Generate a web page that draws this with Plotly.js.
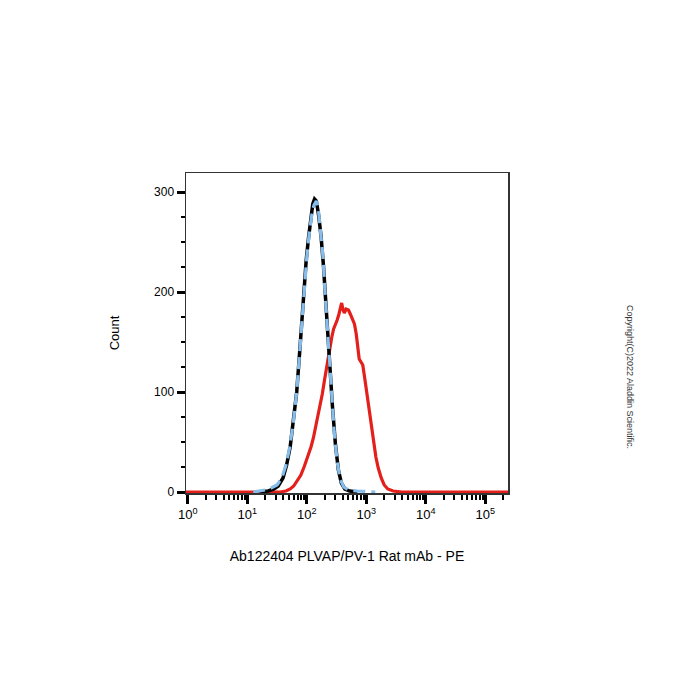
<!DOCTYPE html>
<html>
<head>
<meta charset="utf-8">
<script src="https://cdn.plot.ly/plotly-3.0.1.min.js"></script>
<style>html,body{margin:0;padding:0;background:#fff;}#chart{width:700px;height:700px;}</style>
</head>
<body>
<div id="chart"></div>
<script>
// Fluorescence positions stored as log10(PE intensity), counts
const redLog   = [-0.1, 1.0, 1.55, 1.65, 1.72, 1.78, 1.84, 1.90, 1.96, 2.02, 2.07, 2.11, 2.15, 2.18, 2.22, 2.26, 2.30, 2.34, 2.38, 2.42, 2.45, 2.48, 2.51, 2.54, 2.57, 2.585, 2.61, 2.63, 2.66, 2.70, 2.73, 2.76, 2.80, 2.83, 2.86, 2.88, 2.91, 2.94, 2.97, 3.00, 3.04, 3.08, 3.12, 3.16, 3.20, 3.25, 3.30, 3.36, 3.45, 3.60, 4.5, 5.5];
const redCount = [0, 0, 0, 1, 3, 6, 11, 17, 26, 36, 45, 54, 66, 73, 84, 98, 113, 128, 143, 155, 163, 167, 172, 178, 186, 189, 182, 179, 183, 182, 178, 174, 168, 158, 146, 133, 130, 127, 115, 102, 85, 66, 49, 35, 24, 14, 7, 3, 1, 0, 0, 0];

const blackLog   = [1.20, 1.35, 1.45, 1.52, 1.60, 1.66, 1.72, 1.77, 1.83, 1.88, 1.93, 1.96, 1.99, 2.03, 2.07, 2.10, 2.13, 2.16, 2.20, 2.24, 2.28, 2.33, 2.38, 2.43, 2.48, 2.53, 2.58, 2.64, 2.72, 2.85];
const blackCount = [0, 1, 3, 6, 14, 27, 45, 68, 100, 140, 182, 212, 232, 255, 275, 288, 293, 291, 276, 255, 226, 176, 130, 86, 48, 22, 9, 3, 1, 0];

const blueLog   = [1.10, 1.20, 1.30, 1.40, 1.50, 1.58, 1.65, 1.71, 1.77, 1.83, 1.88, 1.93, 1.97, 2.00, 2.04, 2.08, 2.12, 2.16, 2.19, 2.23, 2.27, 2.31, 2.36, 2.41, 2.46, 2.51, 2.56, 2.62, 2.70, 2.85, 3.00, 3.15];
const blueCount = [0, 1, 2, 4, 7, 14, 27, 44, 68, 100, 140, 180, 215, 235, 258, 276, 287, 291, 285, 262, 236, 196, 150, 102, 60, 30, 13, 5, 2, 1, 0.5, 0];

const xTickVals = [1, 10, 100, 1000, 10000, 100000];
const xTickText = ['10<sup>0</sup>', '10<sup>1</sup>', '10<sup>2</sup>', '10<sup>3</sup>', '10<sup>4</sup>', '10<sup>5</sup>'];
const yTickVals = [0, 100, 200, 300];
const yTickText = ['0', '100', '200', '300'];

const xTitle = 'Ab122404 PLVAP/PV-1 Rat mAb - PE';
const yTitle = 'Count';
const copyright = 'Copyright(C)2022 Aladdin Scientific.';

const toLin = a => a.map(v => Math.pow(10, v));

const minorX = [];
for (let d = 0; d < 6; d++) for (let m = 2; m <= 9; m++) minorX.push(m * Math.pow(10, d));

const font = 'Arial, "Liberation Sans", sans-serif';

const traces = [
  {x: toLin(redLog), y: redCount, type: 'scatter', mode: 'lines', line: {color: '#e3201b', width: 3.2}, hoverinfo: 'skip'},
  {x: toLin(blackLog), y: blackCount, type: 'scatter', mode: 'lines', line: {color: '#000000', width: 3.5}, hoverinfo: 'skip'},
  {x: toLin(blueLog), y: blueCount, type: 'scatter', mode: 'lines', line: {color: '#86bdea', width: 3.2, dash: '12px,6px'}, hoverinfo: 'skip'}
];

const layout = {
  width: 700, height: 700,
  margin: {l: 186, r: 192, t: 173, b: 207, pad: 0},
  paper_bgcolor: '#fff', plot_bgcolor: '#fff',
  showlegend: false,
  font: {family: font, color: '#000'},
  xaxis: {
    type: 'log', range: [-0.03, 5.38],
    tickmode: 'array', tickvals: xTickVals, ticktext: xTickText,
    ticks: 'outside', ticklen: 9, tickwidth: 3, tickcolor: '#000',
    minor: {tickmode: 'array', tickvals: minorX, ticks: 'outside', ticklen: 5, tickwidth: 2, tickcolor: '#000'},
    showgrid: false, zeroline: false,
    showline: true, linecolor: '#333', linewidth: 1.5, mirror: true,
    tickfont: {size: 13, family: font, color: '#000'},
    title: {text: xTitle, font: {size: 14, family: font, color: '#000'}, standoff: 30}
  },
  yaxis: {
    range: [-1, 319],
    tickmode: 'array', tickvals: yTickVals, ticktext: yTickText,
    ticks: 'outside', ticklen: 8, tickwidth: 3, tickcolor: '#000',
    minor: {dtick: 25, ticks: 'outside', ticklen: 4, tickwidth: 2, tickcolor: '#000'},
    showgrid: false, zeroline: false,
    showline: true, linecolor: '#333', linewidth: 1.5, mirror: true,
    tickfont: {size: 12, family: font, color: '#000'},
    title: {text: yTitle, font: {size: 13, family: font, color: '#000'}, standoff: 31}
  },
  annotations: [{
    text: copyright, xref: 'paper', yref: 'paper',
    x: (637 - 186) / 322, y: (493 - 377) / 320,
    showarrow: false, textangle: 90,
    font: {size: 9, family: font, color: '#333'}
  }]
};

Plotly.newPlot('chart', traces, layout, {displayModeBar: false, staticPlot: true});
</script>
</body>
</html>
